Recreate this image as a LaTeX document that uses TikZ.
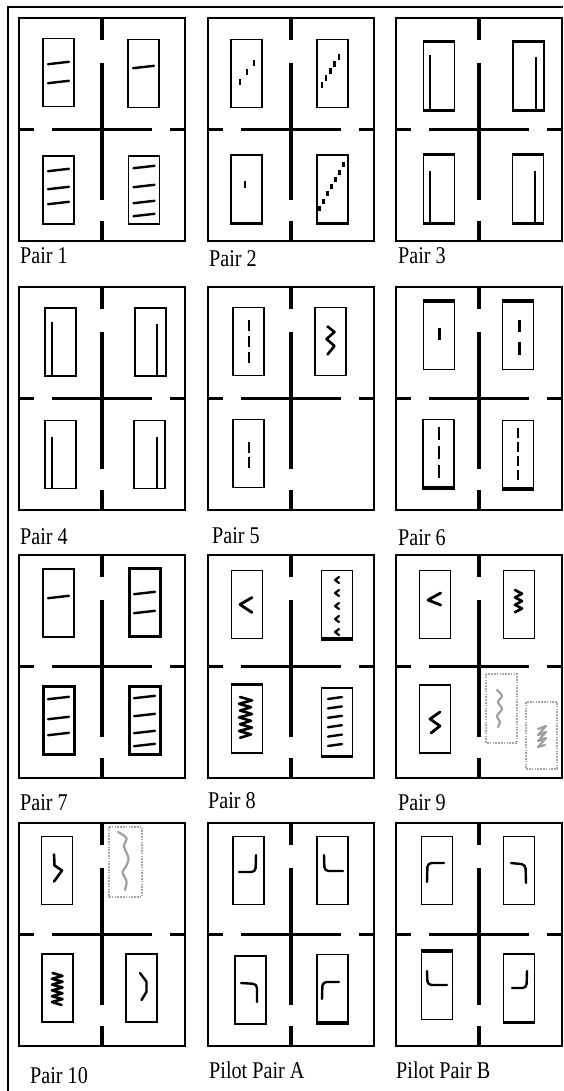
\documentclass[tikz,border=0pt]{standalone}
\usepackage{fontspec}
\setmainfont{Liberation Serif}
\newcommand\panelbox[2]{%
\begin{scope}[shift={(#1,#2)}]
\draw[frame] (0,0) rectangle (166,223);
\draw[crossbar] (83,0)--(83,22) (83,45)--(83,182) (83,203)--(83,223)
 (0,111.5)--(15,111.5) (33,111.5)--(133,111.5) (151,111.5)--(166,111.5);
\end{scope}}
\newcommand\crd[3]{\begin{scope}[shift={(#1,#2)}]\draw[card](-15.5,-34) rectangle (15.5,34);#3\end{scope}}
\newcommand\crdk[3]{\begin{scope}[shift={(#1,#2)}]\draw[card,line width=3pt](-15.5,-34) rectangle (15.5,34);#3\end{scope}}
\newcommand\tbot{\draw[line width=3.6pt](-16.4,34.5)--(16.4,34.5);}
\newcommand\ttop{\draw[line width=3.6pt](-16.4,-34.5)--(16.4,-34.5);}
\newcommand\strk[1]{\draw[ink](-10.5,#1+1.2)--(10.5,#1-1.2);}
\newcommand\lb[1]{\scalebox{0.84}[1]{#1}}
\begin{document}
\begin{tikzpicture}[x=1pt,y=-1pt,
  frame/.style={line width=1.3pt},
  crossbar/.style={line width=3.5pt},
  card/.style={line width=1.9pt},
  ink/.style={line width=2.4pt,line cap=round,line join=round},
  thinink/.style={line width=1.5pt},
  grayink/.style={draw=gray!75,line width=2.2pt,line cap=round,line join=round},
  dotbox/.style={draw=gray!70,line width=1.6pt,dash pattern=on 1.6pt off 1.2pt},
  lbl/.style={font=\fontsize{24}{24}\selectfont,inner sep=0pt,anchor=base west}]
\useasboundingbox (0,0) rectangle (563,1091);
% outer frame
\draw[line width=2pt] (8,1091) -- (8,7) -- (563,7);
% panels
\panelbox{19}{18}\panelbox{208}{18}\panelbox{396}{18}
\panelbox{19}{287}\panelbox{208}{287}\panelbox{396}{287}
\panelbox{19}{555}\panelbox{208}{555}\panelbox{396}{555}
\panelbox{19}{823}\panelbox{208}{823}\panelbox{396}{823}
% ---------- Pair 1
\crd{58.5}{72.5}{\strk{-9.5}\strk{9.5}}
\crd{143.5}{73.5}{\strk{-6.5}}
\crd{58.5}{190}{\strk{-20}\strk{-2}\strk{13}}
\crd{144}{190}{\strk{-23}\strk{-4}\strk{12}\strk{25}}
% ---------- Pair 2
\crd{246.5}{73.5}{\foreach \t in {0,0.5,1} \draw[ink,line cap=butt] ({-6.5+14*\t},{8.2-18.4*\t}) +(0,-3)--+(0,3);}
\crd{332.5}{73.5}{\foreach \t in {0,0.25,0.5,0.75,1} \draw[ink,line cap=butt] ({-10.8+17.3*\t},{11.5-28.3*\t}) +(0,-3)--+(0,3);}
\crd{246.5}{189}{\tbot\draw[ink,line cap=butt] (-1.5,-7.5)--(-1.5,-0.5);}
\crd{332.5}{189}{\tbot\foreach \t in {0,0.1667,0.3333,0.5,0.6667,0.8333,1} \draw[ink,line cap=butt] ({-13.2+24*\t},{19.3-43.3*\t}) +(0,-2.5)--+(0,2.5);}
% ---------- Pair 3
\crd{439}{76}{\ttop\tbot\draw[thinink] (-9,-21)--(-9,34);}
\crd{528.5}{76}{\ttop\tbot\draw[thinink] (7.5,-19)--(7.5,34);}
\crd{439}{189}{\ttop\tbot\draw[thinink] (-9,-18)--(-9,34);}
\crd{528}{189}{\ttop\tbot\draw[thinink] (7,-18)--(7,34);}
% ---------- Pair 4
\crd{60.5}{342}{\draw[thinink] (-8.5,-20)--(-8.5,34);}
\crd{150.5}{342}{\draw[thinink] (6.5,-18)--(6.5,34);}
\crd{60.5}{454.5}{\draw[thinink] (-8.5,-17.5)--(-8.5,34);}
\crd{149.5}{454.5}{\draw[thinink] (7.5,-17.5)--(7.5,34);}
% ---------- Pair 5
\crd{248.5}{341.5}{\draw[line width=2pt,dash pattern=on 11pt off 5pt] (0.8,-21.5)--(0.8,21.5);}
\crd{330.5}{341.5}{\draw[ink,line width=2.6pt] (-3,-15)--(4,-9.5)--(-4,-2.5)--(4,4.5)--(-3,13);}
\crd{248.5}{453.5}{\draw[line width=2pt,dash pattern=on 11pt off 4pt] (0.8,-11.5)--(0.8,14.5);}
% ---------- Pair 6
\crd{439}{335.5}{\ttop\draw[line width=2.5pt] (0.3,-7.5)--(0.3,4.5);}
\crd{518}{335.5}{\ttop\draw[line width=2.5pt] (1.3,-15.5)--(1.3,-3.5) (1.3,6.5)--(1.3,19.5);}
\crd{438.5}{453.5}{\tbot\draw[line width=2.2pt,dash pattern=on 13pt off 6pt] (0.5,-26.5)--(0.5,24.5);}
\crd{518}{454.5}{\tbot\draw[line width=2.2pt,dash pattern=on 10pt off 4pt] (0,-26.5)--(0,25.5);}
% ---------- Pair 7
\crd{58.5}{603}{\strk{-6}}
\crdk{144.5}{602}{\strk{-9}\strk{10}}
\crdk{58.5}{720.5}{\strk{-22.5}\strk{-2.5}\strk{13.5}}
\crdk{144.5}{720}{\strk{-23}\strk{-5}\strk{12}\strk{25}}
% ---------- Pair 8
\crd{247}{604.5}{\draw[ink,line width=2.8pt] (5,-7)--(-7,0)--(5,8);}
\crd{337}{604.5}{\tbot\foreach \yy in {-24.5,-11.5,1.5,14.5,27.5} \draw[ink,line width=2.2pt] (2,\yy-3)--(-2,\yy)--(2,\yy+3);}
\crd{247}{719}{\ttop\draw[ink,line width=2.6pt] (-7,-22)--(5,-18.6)--(-8,-15.2)--(4,-11.8)--(-7,-8.4)--(5,-5)--(-8,-1.6)--(4,1.8)--(-7,5.2)--(5,8.6)--(-8,12)--(4,15.4)--(-7,18.8);}
\crd{337}{722}{\tbot\foreach \yy in {-24,-14.6,-5.2,4.2,13.6,23} \draw[ink] (-9,\yy+1)--(5,\yy-1);}
% ---------- Pair 9
\crd{435}{604.5}{\draw[ink,line width=2.8pt] (5.7,-11.5)--(-7,-4.5)--(5.7,0.5);}
\crd{519}{604.5}{\draw[ink,line width=2.6pt] (-4,-14.5)--(3,-10.8)--(-4,-7.1)--(3,-3.4)--(-4,0.3)--(3,4)--(-4,7.7);}
\crd{435}{719}{\draw[ink,line width=2.8pt] (5,-7)--(-5,0)--(5,7)--(-4,14);}
\draw[dotbox] (486,674) rectangle (517,743);
\draw[grayink] plot[smooth] coordinates {(497,690)(502,696)(498,702)(502,709)(497,716)(500,722)(498,727)};
\draw[dotbox] (526,702) rectangle (557,769);
\draw[grayink] (538,729)--(546,726)--(538,735)--(546,732)--(538,741)--(546,738)--(538,747)--(545,745);
% ---------- Pair 10
\crd{57}{870.5}{\draw[ink,line width=2.6pt] (-3,-16)--(-2.5,-5)--(5,0)--(-3,11);}
\draw[dotbox] (109,827) rectangle (142,897);
\draw[grayink] plot[smooth] coordinates {(118,832)(126.5,838)(124,846.5)(128.5,858)(126,866.5)(122.5,872)(126.5,881.5)(125,890)};
\crd{57.5}{988}{\draw[ink,line width=2.6pt] (-5,-15)--(5,-12.1)--(-5.5,-9.2)--(5,-6.3)--(-5.5,-3.4)--(5,-0.5)--(-5.5,2.4)--(5,5.3)--(-5.5,8.2)--(5,11.1)--(-5.5,14)--(4,17);}
\crd{141.5}{988}{\draw[ink] (-1.5,-15)--(5,-6.3)--(5,3.7)--(0,12);}
% ---------- Pilot Pair A
\crd{248.5}{870.5}{\draw[ink,rounded corners=4pt] (7.5,-15.5)--(7,1.5)--(-9.5,1.5);}
\crd{332.5}{870.5}{\draw[ink,rounded corners=4pt] (-8.5,-15.5)--(-8,0.5)--(10.5,0.5);}
\crd{250.5}{990}{\draw[ink,rounded corners=4pt] (-9.5,-7)--(6.5,-6)--(6.5,12);}
\crd{332.5}{988.5}{\tbot\draw[ink,rounded corners=4pt] (-10.5,10.5)--(-10,-6.5)--(6.5,-6.5);}
% ---------- Pilot Pair B
\crd{437}{870.5}{\draw[ink,rounded corners=4pt] (-10,11.5)--(-9.5,-7.5)--(7,-7.5);}
\crd{519}{870.5}{\draw[ink,rounded corners=4pt] (-8,-7.5)--(6.5,-6)--(7,12.5);}
\crd{437}{985.5}{\ttop\draw[ink,rounded corners=4pt] (-10,-14.5)--(-9.5,-0.5)--(10,-0.5);}
\crd{519}{988}{\tbot\draw[ink,rounded corners=4pt] (8,-17)--(7.5,0)--(-7,0);}
% ---------- labels
\node[lbl] (l1) at (20,263) {\lb{Pair 1}};
\node[lbl] (l2) at (209,266) {\lb{Pair 2}};
\node[lbl] (l3) at (398,263) {\lb{Pair 3}};
\node[lbl] (l4) at (20,544) {\lb{Pair 4}};
\node[lbl] (l5) at (212,543) {\lb{Pair 5}};
\node[lbl] (l6) at (398,545) {\lb{Pair 6}};
\node[lbl] (l7) at (20,810) {\lb{Pair 7}};
\node[lbl] (l8) at (208,808) {\lb{Pair 8}};
\node[lbl] (l9) at (398,810) {\lb{Pair 9}};
\node[lbl] (l10) at (30,1083) {\lb{Pair 10}};
\node[lbl] (lA) at (209,1078) {\lb{Pilot Pair A}};
\node[lbl] (lB) at (396,1078) {\lb{Pilot Pair B}};
\end{tikzpicture}
\end{document}
